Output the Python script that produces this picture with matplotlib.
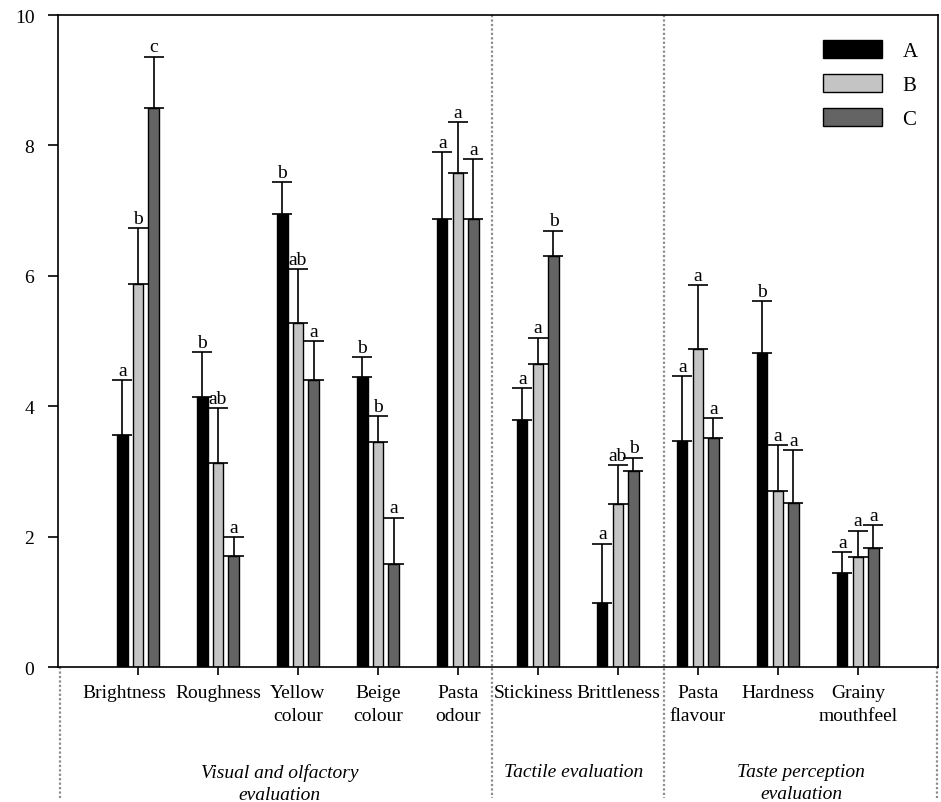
import numpy as np
import matplotlib
matplotlib.use("Agg")
import matplotlib.pyplot as plt
import matplotlib.transforms as mtransforms

plt.rcParams['font.family'] = ['Liberation Serif', 'DejaVu Serif']

categories = ["Brightness", "Roughness", "Yellow\ncolour", "Beige\ncolour", "Pasta\nodour",
              "Stickiness", "Brittleness", "Pasta\nflavour", "Hardness", "Grainy\nmouthfeel"]

mean_a = [3.56, 4.14, 6.95, 4.45, 6.87, 3.79, 0.98, 3.47, 4.82, 1.44]
mean_b = [5.87, 3.13, 5.28, 3.45, 7.58, 4.65, 2.50, 4.88, 2.70, 1.69]
mean_c = [8.57, 1.70, 4.40, 1.58, 6.87, 6.30, 3.01, 3.51, 2.52, 1.83]

sd_a = [0.84, 0.69, 0.49, 0.30, 1.03, 0.49, 0.91, 0.99, 0.79, 0.32]
sd_b = [0.86, 0.84, 0.82, 0.40, 0.78, 0.40, 0.60, 0.98, 0.70, 0.40]
sd_c = [0.79, 0.29, 0.60, 0.71, 0.92, 0.39, 0.20, 0.31, 0.81, 0.35]

letters_a = ["a", "b", "b", "b", "a", "a", "a", "a", "b", "a"]
letters_b = ["b", "ab", "ab", "b", "a", "a", "ab", "a", "a", "a"]
letters_c = ["c", "a", "a", "a", "a", "b", "b", "a", "a", "a"]

groups = ["Visual and olfactory\nevaluation", "Tactile evaluation", "Taste perception\nevaluation"]

series = [
    ("A", mean_a, sd_a, letters_a, "#000000"),
    ("B", mean_b, sd_b, letters_b, "#c4c4c4"),
    ("C", mean_c, sd_c, letters_c, "#646464"),
]

fig = plt.figure(figsize=(9.41, 8.03), dpi=100)
ax = fig.add_axes([0.0616, 0.168, 0.935, 0.812])

x = np.arange(1, len(categories) + 1)
width = 0.13
step = 0.195

for i, (name, means, sds, lets, col) in enumerate(series):
    pos = x + (i - 1) * step
    ax.bar(pos, means, width=width, color=col, edgecolor="black", linewidth=1.0, label=name, zorder=2)
    ax.errorbar(pos, means, yerr=[np.zeros(len(means)), sds], fmt="none", ecolor="black",
                elinewidth=1.2, capsize=7, capthick=1.2, zorder=3)
    for p, m, s, l in zip(pos, means, sds, lets):
        ax.annotate(l, (p, m + s), xytext=(0, 1), textcoords="offset points",
                    ha="center", va="bottom", fontsize=14)

ax.set_xlim(0, 11)
ax.set_ylim(0, 10)
ax.set_yticks([0, 2, 4, 6, 8, 10])
ax.set_xticks(x)
ax.set_xticklabels(categories, fontsize=14, linespacing=1.45)
ax.tick_params(axis="y", labelsize=14, length=7, width=1.2, direction="out", pad=10)
ax.tick_params(axis="x", length=6, width=1.2, direction="out", pad=6)
for sp in ax.spines.values():
    sp.set_linewidth(1.2)

# nudge the first labels a bit left, as in the original
shifts = {0: -14, 5: -4}
for idx, dx in shifts.items():
    lab = ax.get_xticklabels()[idx]
    lab.set_transform(lab.get_transform() + mtransforms.ScaledTranslation(dx / 100, 0, fig.dpi_scale_trans))

# group separators
sep_kw = dict(color="#8c8c8c", linestyle=(0, (1, 1)), linewidth=1.6,
              transform=ax.get_xaxis_transform(), clip_on=False)
for xs in [5.425, 7.575]:
    ax.plot([xs, xs], [1.0, -0.2], **sep_kw)
for xs in [0.025, 10.99]:
    ax.plot([xs, xs], [0.0, -0.2], **sep_kw)

group_x = [2.77, 6.45, 9.29]
for gx, g in zip(group_x, groups):
    ax.text(gx, -0.147, g, transform=ax.get_xaxis_transform(), ha="center", va="top",
            fontsize=14, style="italic", linespacing=1.4)

leg = ax.legend(loc="upper left", bbox_to_anchor=(0.870, 0.962), frameon=False, fontsize=15,
                handlelength=2.8, handleheight=1.0, labelspacing=0.6, handletextpad=1.0,
                borderpad=0, borderaxespad=0)

fig.savefig("out.png", dpi=100)
